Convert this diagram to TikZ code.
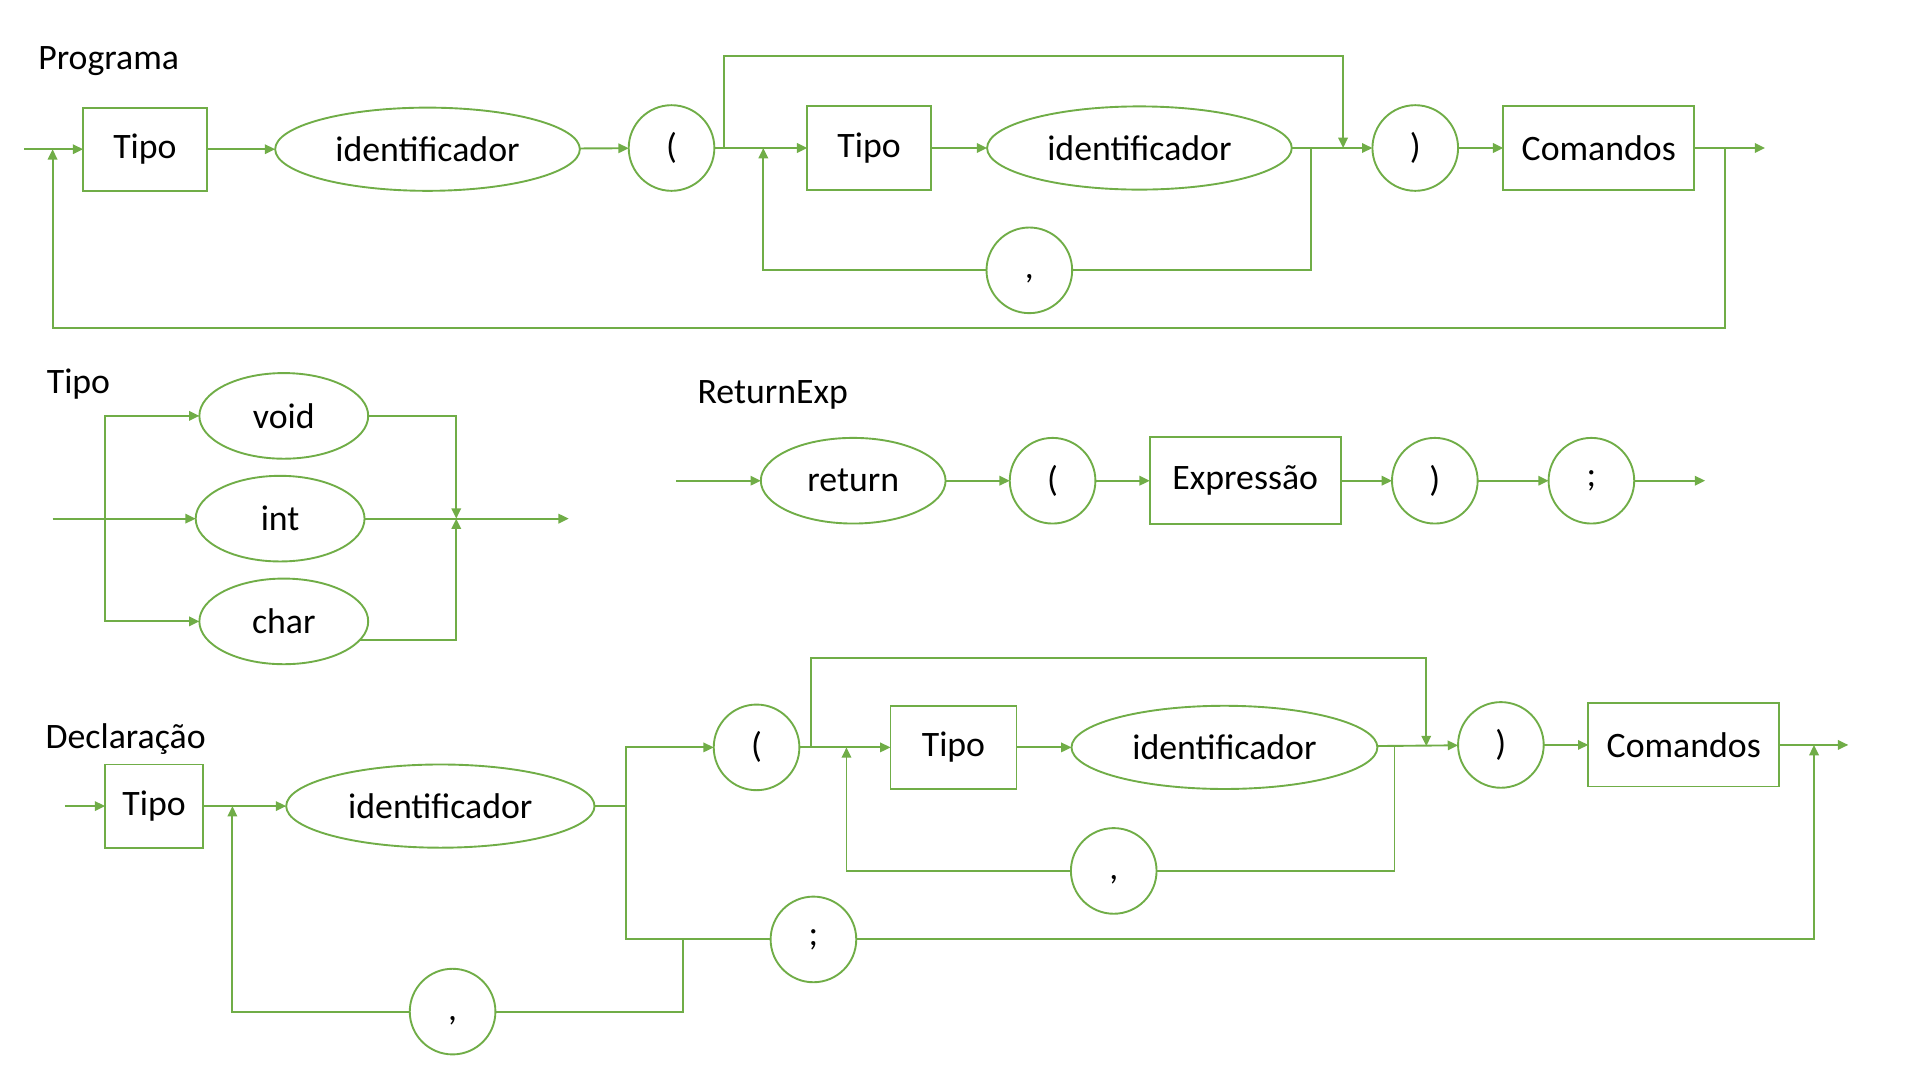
\documentclass[tikz,border=0pt]{standalone}
\usepackage{fontspec}
\setmainfont{Carlito}
\usetikzlibrary{arrows.meta,shapes.geometric}
\definecolor{synt}{HTML}{70AD47}

\begin{document}
\begin{tikzpicture}[x=0.025cm, y=-0.025cm,
	font=\fontsize{20.8}{25}\selectfont,
	box/.style={rectangle, draw=synt, line width=1.1pt, minimum height=1.7cm, inner sep=0pt, outer sep=0pt},
	oval/.style={ellipse, draw=synt, line width=1.1pt, minimum height=1.7cm, inner sep=0pt, outer sep=0pt},
	term/.style={circle, draw=synt, line width=1.1pt, minimum size=1.75cm, inner sep=0pt, outer sep=0pt},
	arr/.style={-{Triangle[length=6pt,width=5.5pt]}, synt, line width=1.1pt},
	lin/.style={synt, line width=1.1pt},
	title/.style={anchor=west, inner sep=0pt}]

	\useasboundingbox (0,0) rectangle (1568,880);

	%%% Programa %%%

	\node[title] (tprog) at (31,50) {Programa};

	\node[box, minimum width=2.525cm] (tipo1) at (118.5,122) {Tipo};
	\node[oval, minimum width=6.225cm] (id1) at (349.5,122) {identificador};
	\node[term] (lp1) at (549,121) {(};
	\node[box, minimum width=2.525cm] (tipo2) at (710.5,121) {Tipo};
	\node[oval, minimum width=6.225cm] (id2) at (931.5,121) {identificador};
	\node[term] (rp1) at (1157,121) {)};
	\node[box, minimum width=3.9cm] (cmd1) at (1307,121) {Comandos};
	\node[term] (comma1) at (841.5,221) {\vphantom{Tp},};

	\coordinate (pin) at (20,122);
	\coordinate (pout) at (1443,121);
	\coordinate (s1) at (592,121);
	\coordinate (j1) at (1098,121);
	\coordinate (c1r) at (1072,121);
	\coordinate (c1l) at (624,121);
	\coordinate (r1) at (1410,121);
	\coordinate (r1end) at (43,122);

	\draw[arr] (pin) -- (tipo1);
	\draw[arr] (tipo1) -- (id1);
	\draw[arr] (id1) -- (lp1);
	\draw[arr] (lp1) -- (tipo2);
	\draw[arr] (tipo2) -- (id2);
	\draw[arr] (id2) -- (rp1);
	\draw[arr] (rp1) -- (cmd1);
	\draw[arr] (cmd1) -- (pout);

	\draw[arr] (s1) -- ++(0,-75) -| (j1);
	\draw[lin] (c1r) |- (comma1);
	\draw[arr] (comma1) -| (c1l);
	\draw[arr] (r1) -- ++(0,147) -| (r1end);

	%%% Tipo %%%

	\node[title] (ttipo) at (38,314) {Tipo};

	\node[oval, minimum width=3.45cm, minimum height=1.75cm] (void) at (232,340) {void};
	\node[oval, minimum width=3.45cm, minimum height=1.75cm] (int) at (229,424) {int};
	\node[oval, minimum width=3.45cm, minimum height=1.75cm] (char) at (232,508) {char};

	\coordinate (tin) at (43,424);
	\coordinate (tsp) at (86,424);
	\coordinate (tj) at (373,424);
	\coordinate (tout) at (465,424);

	\draw[arr] (tin) -- (int);
	\draw[arr] (tsp) |- (void);
	\draw[arr] (tsp) |- (char);
	\draw[arr] (void) -| (tj);
	\draw[arr] (char.-14) -| (tj);
	\draw[arr] (int) -- (tout);

	%%% ReturnExp %%%

	\node[title] (tret) at (570,323) {ReturnExp};

	\node[oval, minimum width=3.775cm, minimum height=1.75cm] (ret) at (697.5,393) {return};
	\node[term] (lp2) at (860.5,393) {(};
	\node[box, minimum width=3.9cm, minimum height=1.775cm] (expr) at (1018,393) {Expressão};
	\node[term] (rp2) at (1173,393) {)};
	\node[term] (semi1) at (1301,393) {;};

	\coordinate (rin) at (553,393);
	\coordinate (rout) at (1394,393);

	\draw[arr] (rin) -- (ret);
	\draw[arr] (ret) -- (lp2);
	\draw[arr] (lp2) -- (expr);
	\draw[arr] (expr) -- (rp2);
	\draw[arr] (rp2) -- (semi1);
	\draw[arr] (semi1) -- (rout);

	%%% Declaracao %%%

	\node[title] (tdecl) at (37,604) {Declaração};

	\node[box, minimum width=2cm] (tipo3) at (126,659) {Tipo};
	\node[oval, minimum width=6.3cm] (id3) at (360,659) {identificador};
	\node[term] (lp3) at (618.5,611) {(};
	\node[box, minimum width=2.575cm] (tipo4) at (779.5,611) {Tipo};
	\node[oval, minimum width=6.25cm] (id4) at (1001,611) {identificador};
	\node[term] (rp3) at (1227,609) {)};
	\node[box, minimum width=3.9cm] (cmd2) at (1376.5,609) {Comandos};
	\node[term] (comma3) at (910.5,712) {\vphantom{Tp},};
	\node[term] (semi2) at (665,768) {;};
	\node[term] (comma4) at (370,827) {\vphantom{Tp},};

	\coordinate (din) at (53,659);
	\coordinate (dsp) at (512,659);
	\coordinate (s3) at (663,611);
	\coordinate (j3) at (1166,610);
	\coordinate (c3r) at (1140,610);
	\coordinate (c3l) at (692,611);
	\coordinate (e3) at (1483,609);
	\coordinate (dout) at (1511,609);
	\coordinate (b3) at (558,768);
	\coordinate (k3) at (190,659);

	\draw[arr] (din) -- (tipo3);
	\draw[arr] (tipo3) -- (id3);
	\draw[lin] (id3) -- (dsp);
	\draw[arr] (dsp) |- (lp3);
	\draw[lin] (dsp) |- (semi2);
	\draw[arr] (lp3) -- (tipo4);
	\draw[arr] (tipo4) -- (id4);
	\draw[arr] (id4) -- (rp3);
	\draw[arr] (rp3) -- (cmd2);
	\draw[arr] (cmd2) -- (dout);

	\draw[arr] (s3) -- ++(0,-73) -| (j3);
	\draw[lin] (c3r) |- (comma3);
	\draw[arr] (comma3) -| (c3l);
	\draw[arr] (semi2) -| (e3);
	\draw[lin] (b3) |- (comma4);
	\draw[arr] (comma4) -| (k3);

\end{tikzpicture}
\end{document}
